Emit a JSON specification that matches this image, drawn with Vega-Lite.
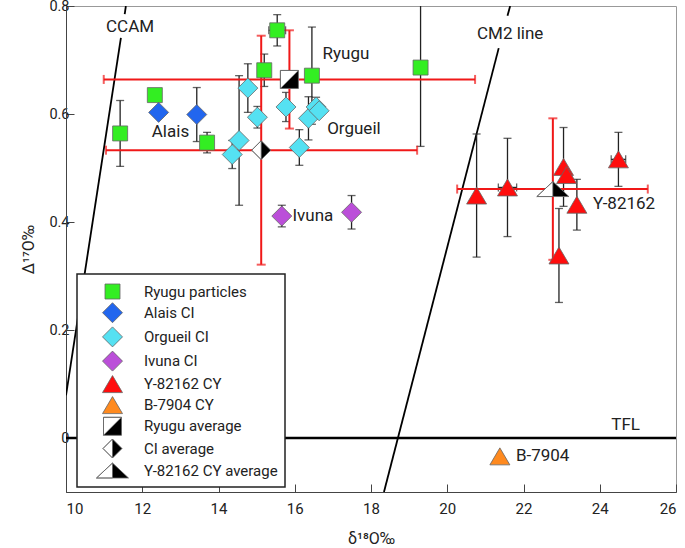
{
  "$schema": "https://vega.github.io/schema/vega-lite/v6.json",
  "width": 610,
  "height": 486,
  "autosize": {"type": "none"},
  "padding": {"left": 66, "top": 6, "right": 9, "bottom": 56},
  "background": "white",
  "config": {
    "font": "Roboto",
    "view": {"stroke": "#999", "strokeWidth": 1},
    "axis": {"grid": false, "labelFont": "Roboto", "titleFont": "Roboto", "labelFontSize": 15, "titleFontSize": 16, "labelColor": "#222", "titleColor": "#222", "titleFontWeight": "normal", "domainColor": "#444", "tickColor": "#444", "tickSize": -8}
  },
  "datasets": {
    "pts": [
      {"s": "Ryugu particles", "d18": 11.42, "D17": 0.564, "lo": 0.503, "hi": 0.625},
      {"s": "Ryugu particles", "d18": 12.33, "D17": 0.635},
      {"s": "Ryugu particles", "d18": 13.70, "D17": 0.547, "lo": 0.528, "hi": 0.566},
      {"s": "Ryugu particles", "d18": 15.54, "D17": 0.755, "lo": 0.726, "hi": 0.784, "xlo": 15.32, "xhi": 15.76},
      {"s": "Ryugu particles", "d18": 15.20, "D17": 0.681, "lo": 0.651, "hi": 0.711},
      {"s": "Ryugu particles", "d18": 16.45, "D17": 0.671, "lo": 0.581, "hi": 0.761},
      {"s": "Ryugu particles", "d18": 19.30, "D17": 0.686, "lo": 0.540, "hi": 0.832},
      {"s": "Alais CI", "d18": 12.43, "D17": 0.603},
      {"s": "Alais CI", "d18": 13.43, "D17": 0.599, "lo": 0.549, "hi": 0.649},
      {"s": "Orgueil CI", "d18": 14.77, "D17": 0.648, "lo": 0.603, "hi": 0.693},
      {"s": "Orgueil CI", "d18": 15.02, "D17": 0.594, "lo": 0.574, "hi": 0.614},
      {"s": "Orgueil CI", "d18": 14.54, "D17": 0.551, "lo": 0.431, "hi": 0.671},
      {"s": "Orgueil CI", "d18": 14.36, "D17": 0.525, "lo": 0.499, "hi": 0.551},
      {"s": "Orgueil CI", "d18": 15.77, "D17": 0.613, "lo": 0.586, "hi": 0.640},
      {"s": "Orgueil CI", "d18": 16.12, "D17": 0.538, "lo": 0.505, "hi": 0.571},
      {"s": "Orgueil CI", "d18": 16.36, "D17": 0.592, "lo": 0.552, "hi": 0.632},
      {"s": "Orgueil CI", "d18": 16.56, "D17": 0.613, "lo": 0.595, "hi": 0.631},
      {"s": "Orgueil CI", "d18": 16.64, "D17": 0.606},
      {"s": "Ivuna CI", "d18": 15.66, "D17": 0.411, "lo": 0.391, "hi": 0.431},
      {"s": "Ivuna CI", "d18": 17.49, "D17": 0.418, "lo": 0.387, "hi": 0.449},
      {"s": "Y-82162 CY", "d18": 20.77, "D17": 0.449, "lo": 0.335, "hi": 0.563},
      {"s": "Y-82162 CY", "d18": 21.58, "D17": 0.464, "lo": 0.373, "hi": 0.555, "xlo": 21.34, "xhi": 21.82},
      {"s": "Y-82162 CY", "d18": 23.05, "D17": 0.502, "lo": 0.429, "hi": 0.575},
      {"s": "Y-82162 CY", "d18": 23.13, "D17": 0.487},
      {"s": "Y-82162 CY", "d18": 24.49, "D17": 0.516, "lo": 0.466, "hi": 0.566, "xlo": 24.30, "xhi": 24.68},
      {"s": "Y-82162 CY", "d18": 23.40, "D17": 0.432, "lo": 0.385, "hi": 0.479},
      {"s": "Y-82162 CY", "d18": 22.93, "D17": 0.338, "lo": 0.251, "hi": 0.425},
      {"s": "B-7904 CY", "d18": 21.38, "D17": -0.034},
      {"s": "Ryugu average", "d18": 15.86, "D17": 0.664},
      {"s": "CI average", "d18": 15.12, "D17": 0.533},
      {"s": "Y-82162 CY average", "d18": 22.77, "D17": 0.461}
    ],
    "avg": [
      {"s": "Ryugu average", "d18": 15.86, "D17": 0.664, "lo": 0.573, "hi": 0.755, "xlo": 10.99, "xhi": 20.73},
      {"s": "CI average", "d18": 15.12, "D17": 0.533, "lo": 0.321, "hi": 0.745, "xlo": 11.05, "xhi": 19.21},
      {"s": "Y-82162 CY average", "d18": 22.77, "D17": 0.461, "lo": 0.330, "hi": 0.592, "xlo": 20.26, "xhi": 25.26}
    ],
    "tfl": [{"D17": 0}],
    "lines": [
      {"seg": "CCAM top", "d18": 11.57, "D17": 0.8},
      {"seg": "CCAM top", "d18": 11.54, "D17": 0.785},
      {"seg": "CCAM low", "d18": 11.44, "D17": 0.741},
      {"seg": "CCAM low", "d18": 10.0, "D17": 0.079},
      {"seg": "CM2 top", "d18": 21.65, "D17": 0.8},
      {"seg": "CM2 top", "d18": 21.58, "D17": 0.782},
      {"seg": "CM2 low", "d18": 21.35, "D17": 0.722},
      {"seg": "CM2 low", "d18": 18.34, "D17": -0.1}
    ],
    "labels_c": [
      {"t": "CCAM", "d18": 11.68, "D17": 0.761},
      {"t": "CM2 line", "d18": 21.65, "D17": 0.748},
      {"t": "TFL", "d18": 24.68, "D17": 0.024}
    ],
    "labels_l": [
      {"t": "Ryugu", "d18": 16.73, "D17": 0.711},
      {"t": "Orgueil", "d18": 16.85, "D17": 0.572},
      {"t": "Alais", "d18": 12.25, "D17": 0.567},
      {"t": "Ivuna", "d18": 15.94, "D17": 0.411},
      {"t": "Y-82162", "d18": 23.82, "D17": 0.434},
      {"t": "B-7904", "d18": 21.80, "D17": -0.034}
    ]
  },
  "encoding": {
    "x": {"field": "d18", "type": "quantitative", "scale": {"domain": [10, 26], "nice": false, "zero": false}, "axis": {"values": [10, 12, 14, 16, 18, 20, 22, 24, 26], "title": "δ¹⁸O‰", "labelPadding": 17, "titlePadding": 14}},
    "y": {"field": "D17", "type": "quantitative", "scale": {"domain": [-0.1, 0.8], "nice": false, "zero": false}, "axis": {"values": [0, 0.2, 0.4, 0.6, 0.8], "labelExpr": "datum.value == 0 ? '0' : format(datum.value, '.1f')", "labelFontSize": 14.5, "title": "Δ¹⁷O‰", "labelPadding": 5, "titlePadding": 12}}
  },
  "layer": [
    {"data": {"name": "tfl"}, "mark": {"type": "rule", "color": "#000", "strokeWidth": 2.5}, "encoding": {"x": {"value": 0}, "x2": {"value": 610}, "y": {"field": "D17", "type": "quantitative"}}},
    {"data": {"name": "lines"}, "mark": {"type": "line", "color": "#000", "strokeWidth": 1.8, "clip": true}, "encoding": {"detail": {"field": "seg"}, "order": {"field": "D17"}}},
    {"data": {"name": "pts"}, "transform": [{"filter": "isValid(datum.lo)"}], "mark": {"type": "rule", "color": "#222", "strokeWidth": 1.3, "clip": true}, "encoding": {"y": {"field": "lo"}, "y2": {"field": "hi"}}},
    {"data": {"name": "pts"}, "transform": [{"filter": "isValid(datum.lo)"}], "mark": {"type": "tick", "orient": "horizontal", "color": "#222", "size": 8, "thickness": 1.3, "clip": true}, "encoding": {"y": {"field": "lo"}}},
    {"data": {"name": "pts"}, "transform": [{"filter": "isValid(datum.hi)"}], "mark": {"type": "tick", "orient": "horizontal", "color": "#222", "size": 8, "thickness": 1.3, "clip": true}, "encoding": {"y": {"field": "hi"}}},
    {"data": {"name": "pts"}, "transform": [{"filter": "isValid(datum.xlo)"}], "mark": {"type": "rule", "color": "#222", "strokeWidth": 1.3}, "encoding": {"x": {"field": "xlo"}, "x2": {"field": "xhi"}}},
    {"data": {"name": "pts"}, "transform": [{"filter": "isValid(datum.xlo)"}], "mark": {"type": "tick", "orient": "vertical", "color": "#222", "size": 8, "thickness": 1.3}, "encoding": {"x": {"field": "xlo"}}},
    {"data": {"name": "pts"}, "transform": [{"filter": "isValid(datum.xhi)"}], "mark": {"type": "tick", "orient": "vertical", "color": "#222", "size": 8, "thickness": 1.3}, "encoding": {"x": {"field": "xhi"}}},
    {"data": {"name": "avg"}, "mark": {"type": "rule", "color": "#f01818", "strokeWidth": 2}, "encoding": {"y": {"field": "lo"}, "y2": {"field": "hi"}}},
    {"data": {"name": "avg"}, "mark": {"type": "rule", "color": "#f01818", "strokeWidth": 2}, "encoding": {"x": {"field": "xlo"}, "x2": {"field": "xhi"}}},
    {"data": {"name": "avg"}, "mark": {"type": "tick", "orient": "horizontal", "color": "#f01818", "size": 9, "thickness": 2}, "encoding": {"y": {"field": "lo"}}},
    {"data": {"name": "avg"}, "mark": {"type": "tick", "orient": "horizontal", "color": "#f01818", "size": 9, "thickness": 2}, "encoding": {"y": {"field": "hi"}}},
    {"data": {"name": "avg"}, "mark": {"type": "tick", "orient": "vertical", "color": "#f01818", "size": 9, "thickness": 2}, "encoding": {"x": {"field": "xlo"}}},
    {"data": {"name": "avg"}, "mark": {"type": "tick", "orient": "vertical", "color": "#f01818", "size": 9, "thickness": 2}, "encoding": {"x": {"field": "xhi"}}},
    {"data": {"name": "avg"}, "transform": [{"filter": "datum.s == 'Ryugu average'"}], "mark": {"type": "point", "filled": true, "fill": "white", "opacity": 1, "size": 400, "shape": "M-0.9,-0.9L0.9,-0.9L0.9,0.9L-0.9,0.9Z"}},
    {"data": {"name": "avg"}, "transform": [{"filter": "datum.s == 'CI average'"}], "mark": {"type": "point", "filled": true, "fill": "white", "opacity": 1, "size": 400, "shape": "M0,-0.95L0.95,0L0,0.95L-0.95,0Z"}},
    {"data": {"name": "avg"}, "transform": [{"filter": "datum.s == 'Y-82162 CY average'"}], "mark": {"type": "point", "filled": true, "fill": "white", "opacity": 1, "size": 400, "shape": "M0,-0.75L1.6,0.75L-1.6,0.75Z"}},
    {"data": {"name": "pts"}, "mark": {"type": "point", "filled": true, "opacity": 1, "size": 400, "stroke": "#666", "strokeWidth": 0.8},
      "encoding": {
        "fill": {"field": "s", "type": "nominal", "scale": {"domain": ["Ryugu particles", "Alais CI", "Orgueil CI", "Ivuna CI", "Y-82162 CY", "B-7904 CY", "Ryugu average", "CI average", "Y-82162 CY average"], "range": ["#33ee22", "#2266ee", "#55e1f2", "#bb4fd9", "#ff0d0d", "#ff8a1f", "#000000", "#000000", "#000000"]},
          "legend": {"title": null, "orient": "none", "legendX": 11, "legendY": 268, "fillColor": "white", "strokeColor": "#222", "padding": 7, "rowPadding": -0.8, "symbolSize": 400, "symbolOffset": 18, "labelOffset": 21, "labelFontSize": 15, "labelFont": "Roboto", "labelColor": "#222", "symbolStrokeColor": "#666", "symbolStrokeWidth": 0.8, "symbolOpacity": 1, "encode": {"legend": {"update": {"strokeWidth": {"value": 1.5}}}}}},
        "shape": {"field": "s", "type": "nominal", "scale": {"domain": ["Ryugu particles", "Alais CI", "Orgueil CI", "Ivuna CI", "Y-82162 CY", "B-7904 CY", "Ryugu average", "CI average", "Y-82162 CY average"], "range": ["M-0.75,-0.75L0.75,-0.75L0.75,0.75L-0.75,0.75Z", "M0,-1L1,0L0,1L-1,0Z", "M0,-1L1,0L0,1L-1,0Z", "M0,-1L1,0L0,1L-1,0Z", "M0,-0.85L1,0.85L-1,0.85Z", "M0,-0.85L1,0.85L-1,0.85Z", "M-0.9,-0.9L0.9,-0.9L0.9,0.9L-0.9,0.9ZM-0.9,-0.9L-0.9,0.9L0.9,-0.9Z", "M0,-0.95L0.95,0L0,0.95L-0.95,0ZM0,-0.95L-0.95,0L0,0.95Z", "M0,-0.75L1.6,0.75L-1.6,0.75ZM0,-0.75L-1.6,0.75L0,0.75Z"]}}
      }},
    {"data": {"name": "labels_c"}, "mark": {"type": "text", "align": "center", "baseline": "middle", "fontSize": 17, "font": "Roboto", "color": "#222"}, "encoding": {"text": {"field": "t"}}},
    {"data": {"name": "labels_l"}, "mark": {"type": "text", "align": "left", "baseline": "middle", "fontSize": 17, "font": "Roboto", "color": "#222"}, "encoding": {"text": {"field": "t"}}}
  ]
}
